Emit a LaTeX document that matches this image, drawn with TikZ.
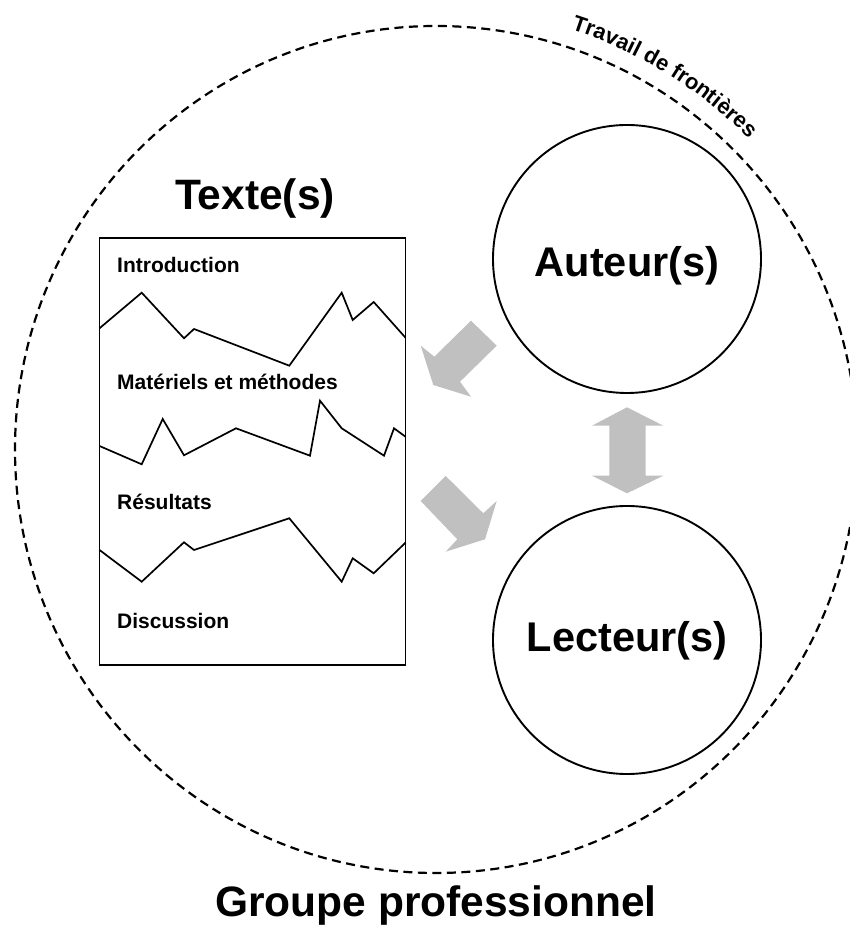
\documentclass[tikz,border=0pt]{standalone}
\usepackage{fontspec}
\setmainfont{Liberation Sans}
\usetikzlibrary{decorations.text}
\definecolor{arrowgray}{RGB}{192,192,192}
\begin{document}
\begin{tikzpicture}[x=1pt,y=1pt,
  bigcircle/.style={circle, draw, line width=1.9pt, minimum size=268pt, inner sep=0pt},
  bigtext/.style={font=\fontsize{42.5}{48}\selectfont\bfseries, anchor=base, inner sep=0pt},
  smalltext/.style={font=\fontsize{21}{25}\selectfont\bfseries, anchor=base west, inner sep=0pt},
  wave/.style={line width=1.7pt, line join=miter},
  blockarrow/.style={fill=arrowgray, draw=none},
  boundary/.style={dash pattern=on 9pt off 5.5pt, line width=2.2pt}]
\useasboundingbox (0,0) rectangle (849,928);

% professional group boundary
\coordinate (groupcenter) at (436,478.5);
\draw[boundary] (groupcenter) ellipse [x radius=421, y radius=423.5];
\path[decorate, decoration={text along path, text align=center,
  text={|\fontsize{22}{26}\selectfont\bfseries|Travail de frontières}}]
  (groupcenter) ++(80:441) arc[start angle=80, end angle=37, radius=441];
\node[bigtext] (groupe) at (436,11) {Groupe professionnel};

% text box
\node[bigtext] (textetitle) at (255,718) {Texte(s)};
\node[draw, line width=1.6pt, minimum width=306pt, minimum height=427pt, inner sep=0pt] (texte) at (252.5,476.5) {};
\node[smalltext] (intro) at (117,655.3) {Introduction};
\node[smalltext] (mat) at (117,538) {Matériels et méthodes};
\node[smalltext] (res) at (117,418) {Résultats};
\node[smalltext] (disc) at (117,299.7) {Discussion};

\draw[wave] (99.5,599.7) -- (141.7,635.3) -- (184,589.7) -- (194,599) -- (289.3,562.3) -- (341.7,635.3) -- (352.7,608) -- (373.7,626) -- (405.5,590.3);
\draw[wave] (99.5,482) -- (141.7,463.7) -- (162.7,509) -- (184,472.7) -- (236,499.7) -- (310,472.3) -- (320,527.3) -- (341.7,499.7) -- (384,472.3) -- (394,499.7) -- (405.5,491.3);
\draw[wave] (99.5,378) -- (141.7,346.3) -- (184,385.7) -- (194,378) -- (289.3,409.7) -- (341.7,346.3) -- (352.7,369.7) -- (373.7,354.7) -- (405.5,385.3);

% authors and readers
\node[bigcircle] (auteur) at (627,669) {};
\node[bigtext, font=\fontsize{41.5}{46}\selectfont\bfseries] (auteurlabel) at (627,651) {Auteur(s)};
\node[bigcircle] (lecteur) at (627,288) {};
\node[bigtext, font=\fontsize{41.5}{46}\selectfont\bfseries] (lecteurlabel) at (627,276) {Lecteur(s)};

% block arrows
\fill[blockarrow] (471,607.3) -- (496.7,582.3) -- (460,546.3) -- (471,531.3) -- (433.3,543) -- (420.7,582.3) -- (434.3,571.3) -- cycle;
\fill[blockarrow] (420.7,427) -- (445.7,452) -- (483.3,414.7) -- (496.7,427) -- (485,388.7) -- (445.7,376.3) -- (457.3,388.7) -- cycle;
\fill[blockarrow] (627,520.7) -- (663.3,502.3) -- (645.7,502.3) -- (645.7,452.3) -- (663.3,452.3) -- (627,434.7) -- (592,452.3) -- (609.3,452.3) -- (609.3,502.3) -- (592,502.3) -- cycle;
\end{tikzpicture}
\end{document}
